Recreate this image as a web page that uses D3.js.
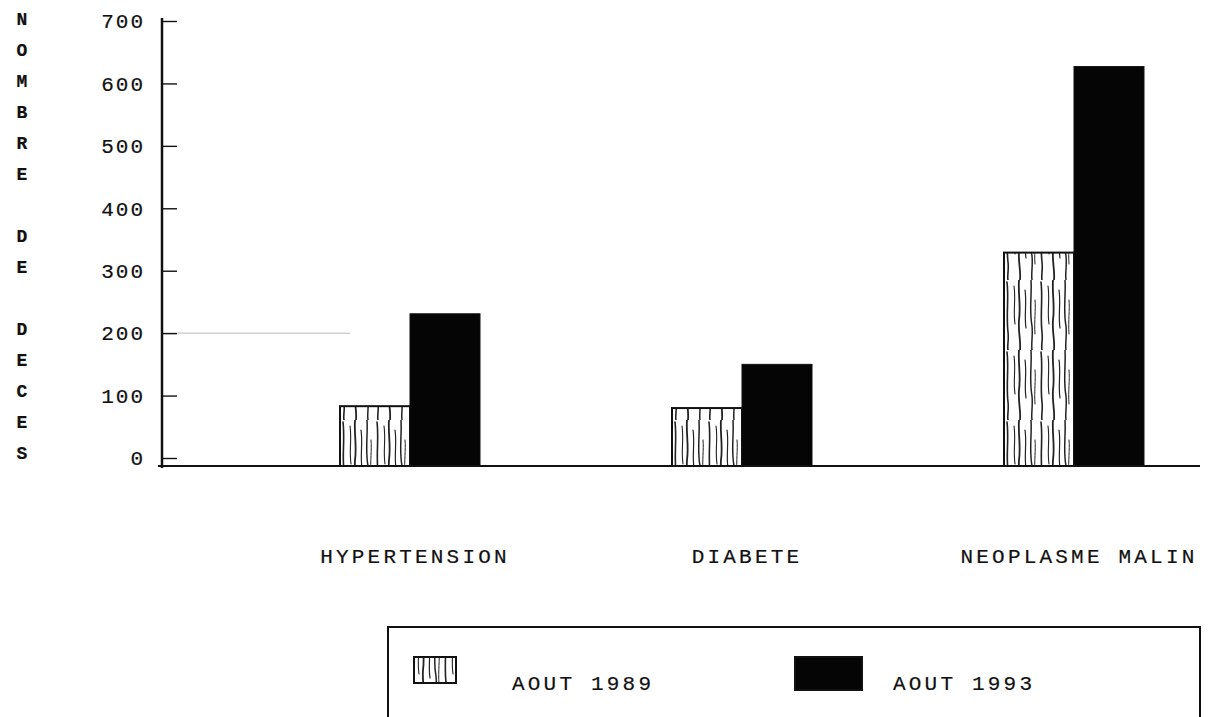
<!DOCTYPE html>
<html>
<head>
<meta charset="utf-8">
<script src="https://cdn.jsdelivr.net/npm/d3@7"></script>
<style>
  body { margin: 0; background: #fff; }
  svg { display: block; }
  text { font-family: "Liberation Mono", "DejaVu Sans Mono", monospace; fill: #111; stroke: #111; stroke-width: 0.2px; }
</style>
</head>
<body>
<svg id="chart" width="1208" height="717"></svg>
<script>
// data
const categories = ["HYPERTENSION", "DIABETE", "NEOPLASME MALIN"];
const series = ["AOUT 1989", "AOUT 1993"];
const values1989 = [83, 80, 329];
const values1993 = [231, 150, 627];
const yTicks = [0, 100, 200, 300, 400, 500, 600, 700];
const yTitle = "NOMBRE DE DECES";

const svg = d3.select("#chart");
const axisX = 162, baseY = 466;
const groupW = 140;

// hand drawn looking hatch for the 1989 bars
const defs = svg.append("defs");
const pat = defs.append("pattern")
  .attr("id", "hatch")
  .attr("patternUnits", "userSpaceOnUse")
  .attr("width", 34).attr("height", 70);
pat.append("rect").attr("width", 34).attr("height", 70).attr("fill", "#fff");
const strokes = [
  "M3,2 C5,18 2,35 4,52 C5,60 3,66 4,70",
  "M10,6 C12,20 9,30 11,44",
  "M15,0 C14,14 17,26 15,40 C14,52 17,60 16,70",
  "M21,10 C23,22 20,36 22,48",
  "M27,0 C28,16 25,30 28,46 C29,56 27,64 28,70",
  "M31,20 C32,30 30,40 31,54"
];
pat.selectAll("path").data(strokes).enter().append("path")
  .attr("d", d => d)
  .attr("fill", "none")
  .attr("stroke", "#222")
  .attr("stroke-width", (d, i) => [1.6, 1.1, 1.8, 1.2, 1.5, 1][i])
  .attr("stroke-linecap", "round");

const y = d3.scaleLinear().domain([0, 700]).range([458, 21]);
const x0 = d3.scaleBand().domain(categories).range([244, 1240]);
const x1 = d3.scaleBand().domain(series).range([0, groupW]);
const gx = d => x0(d) + (x0.bandwidth() - groupW) / 2;

const rows = categories.map((c, i) => ({ cat: c, vals: [values1989[i], values1993[i]] }));

// faint scan streak near 200
svg.append("line")
  .attr("x1", axisX).attr("x2", 350)
  .attr("y1", y(200)).attr("y2", y(200))
  .attr("stroke", "#bbb").attr("stroke-width", 1);

// y axis
const yAxis = d3.axisLeft(y)
  .tickValues(yTicks)
  .tickSizeInner(-15)
  .tickSizeOuter(0)
  .tickPadding(17);
const gy = svg.append("g").attr("transform", `translate(${axisX},0)`).call(yAxis);
gy.select(".domain").remove();
gy.selectAll(".tick line").attr("stroke", "#111").attr("stroke-width", 1.4);
gy.selectAll(".tick text")
  .attr("font-size", 21)
  .attr("font-family", "Liberation Mono, monospace")
  .attr("letter-spacing", 2)
  .attr("fill", "#111");

svg.append("line")
  .attr("x1", axisX).attr("x2", axisX)
  .attr("y1", 18).attr("y2", baseY + 2)
  .attr("stroke", "#111").attr("stroke-width", 2.5);

// bars
const groups = svg.selectAll(".grp").data(rows).enter().append("g")
  .attr("class", "grp")
  .attr("transform", d => `translate(${gx(d.cat)},0)`);

groups.selectAll("rect")
  .data(d => d.vals.map((v, j) => ({ s: series[j], v })))
  .enter().append("rect")
  .attr("x", d => x1(d.s))
  .attr("width", x1.bandwidth())
  .attr("y", d => y(d.v))
  .attr("height", d => baseY - y(d.v))
  .attr("fill", d => d.s === series[0] ? "url(#hatch)" : "#050505")
  .attr("stroke", "#111")
  .attr("stroke-width", d => d.s === series[0] ? 2 : 1);

// x baseline
svg.append("line")
  .attr("x1", 158).attr("x2", 1200)
  .attr("y1", baseY).attr("y2", baseY)
  .attr("stroke", "#111").attr("stroke-width", 2);

// category labels
svg.selectAll(".cat").data(categories).enter().append("text")
  .attr("class", "cat")
  .attr("x", d => x0(d) + x0.bandwidth() / 2 + 5)
  .attr("y", 563)
  .attr("text-anchor", "middle")
  .attr("font-size", 21)
  .attr("letter-spacing", 3.2)
  .text(d => d);

// vertical y title, one letter per line
svg.selectAll(".ttl").data(yTitle.split("")).enter().append("text")
  .attr("class", "ttl")
  .attr("x", 22)
  .attr("y", (d, i) => 25 + i * 31.0)
  .attr("text-anchor", "middle")
  .attr("font-size", 18)
  .attr("font-weight", "bold")
  .text(d => d);

// legend box (open bottom, cut by page edge)
const lg = svg.append("g");
lg.append("path")
  .attr("d", "M388,717 L388,627 L1200,627 L1200,717")
  .attr("fill", "none").attr("stroke", "#111").attr("stroke-width", 2);

const legendItems = [
  { s: series[0], sx: 414, sw: 42, sy: 657, sh: 26, tx: 512 },
  { s: series[1], sx: 795, sw: 67, sy: 657, sh: 33, tx: 893 }
];
lg.selectAll(".sw").data(legendItems).enter().append("rect")
  .attr("x", d => d.sx).attr("y", d => d.sy)
  .attr("width", d => d.sw).attr("height", d => d.sh)
  .attr("fill", d => d.s === series[0] ? "url(#hatch)" : "#050505")
  .attr("stroke", "#111").attr("stroke-width", 2);
lg.selectAll(".lt").data(legendItems).enter().append("text")
  .attr("x", d => d.tx).attr("y", 690)
  .attr("font-size", 21)
  .attr("letter-spacing", 3.2)
  .text(d => d.s);
</script>
</body>
</html>
